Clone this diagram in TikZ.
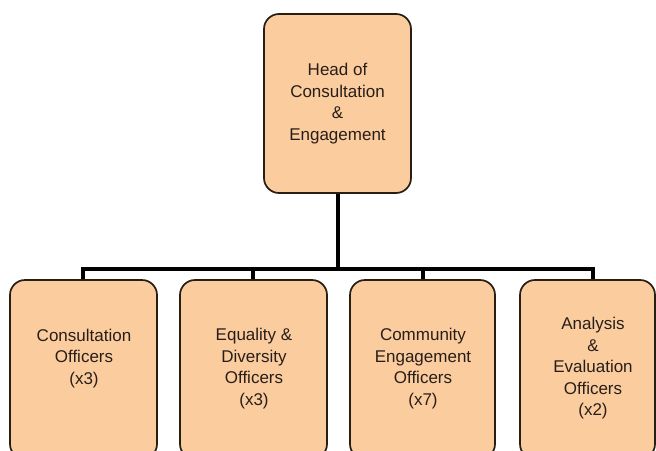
\documentclass[tikz,border=0pt]{standalone}
\usepackage{fontspec}
\setmainfont{Liberation Sans}
\usetikzlibrary{calc}
\definecolor{peach}{RGB}{251,204,158}
\definecolor{boxline}{RGB}{40,30,20}
\definecolor{txt}{RGB}{40,30,25}
\begin{document}
\begin{tikzpicture}[x=1pt,y=-1pt,
  orgbox/.style={draw=boxline,line width=1.7pt,fill=peach,rounded corners=15pt,inner sep=0pt},
  lbl/.style={text=txt,align=center,font=\fontsize{17}{21.5}\selectfont,inner sep=0pt},
  wire/.style={line width=4pt,black}]
\useasboundingbox (0,0) rectangle (656,450);
\clip (0,0) rectangle (656,450);
% connectors (drawn first, boxes on top)
\coordinate (bus) at (337.5,269);
\coordinate (d1) at (83,269);
\coordinate (d2) at (253,269);
\coordinate (d3) at (423,269);
\coordinate (d4) at (593,269);
\draw[wire] (337.5,193) -- (bus);
\draw[wire,line cap=rect] (d1) -- (d4);
\draw[wire] (d1) -- (83,282);
\draw[wire] (d2) -- (253,282);
\draw[wire] (d3) -- (423,282);
\draw[wire] (d4) -- (593,282);
% boxes
\node[orgbox,minimum width=147pt,minimum height=179pt] (head) at (337.5,103.5) {};
\node[orgbox,minimum width=147pt,minimum height=179pt] (b1) at (83.5,369.5) {};
\node[orgbox,minimum width=147pt,minimum height=179pt] (b2) at (253.5,369.5) {};
\node[orgbox,minimum width=145pt,minimum height=179pt] (b3) at (422.5,369.5) {};
\node[orgbox,minimum width=135pt,minimum height=179pt] (b4) at (587.5,369.5) {};
% texts
\node[lbl] (t0) at (head.center) {Head of\\Consultation\\\&\\Engagement};
\node[lbl] (t1) at ($(b1.center)+(0.5,-11)$) {Consultation\\Officers\\(x3)};
\node[lbl] (t2) at ($(b2.center)+(0.5,-1)$) {Equality \&\\Diversity\\Officers\\(x3)};
\node[lbl] (t3) at ($(b3.center)+(0.5,-1)$) {Community\\Engagement\\Officers\\(x7)};
\node[lbl] (t4) at ($(b4.center)+(5.5,-1)$) {Analysis\\\&\\Evaluation\\Officers\\(x2)};
\end{tikzpicture}
\end{document}
